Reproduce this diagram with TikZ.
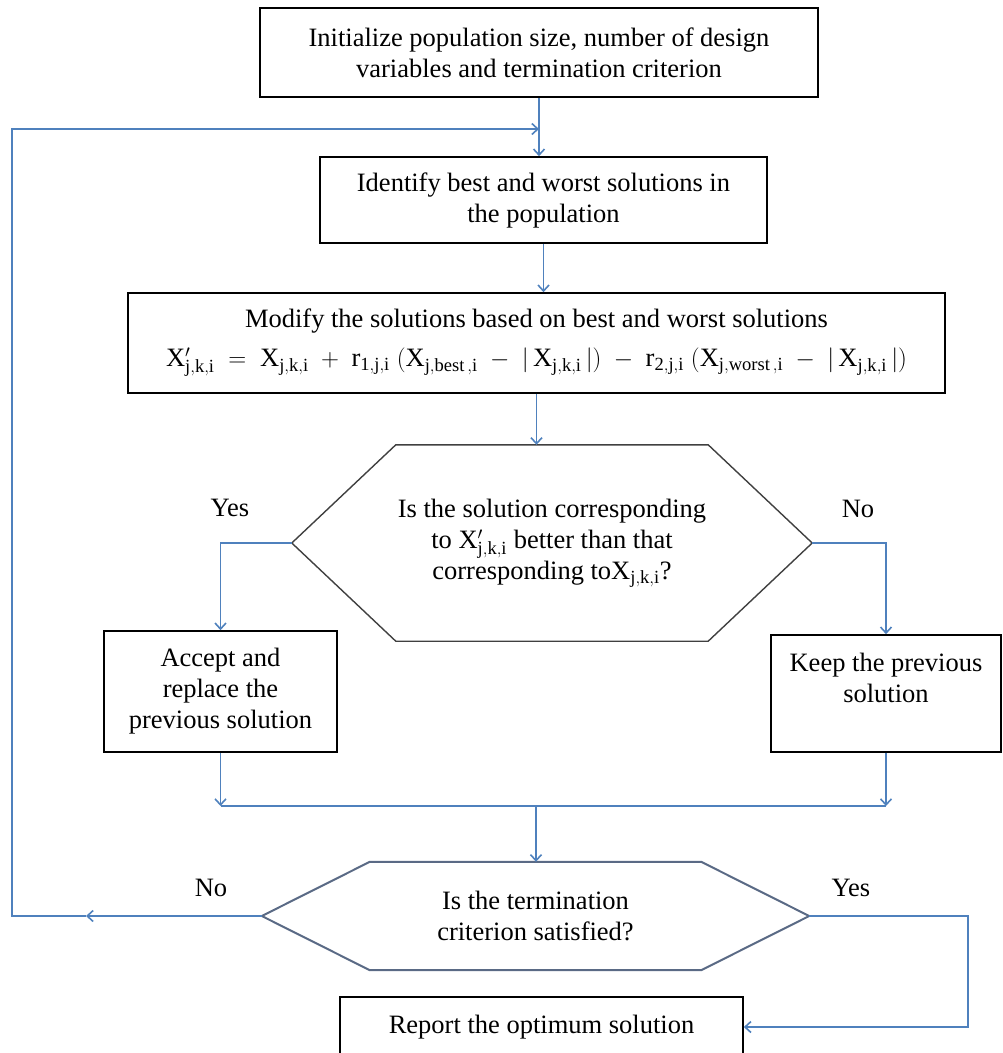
\documentclass[tikz,border=0pt]{standalone}
\usepackage{fontspec}
\setmainfont{Liberation Serif}
\usepackage{xcolor}
\usetikzlibrary{arrows.meta}
\definecolor{flowblue}{HTML}{4F81BD}
\definecolor{hexgray}{HTML}{404040}
\definecolor{hexslate}{HTML}{5A6A85}

\begin{document}
\begin{tikzpicture}[x=1pt, y=-1pt,
    every node/.style={font=\fontsize{26.5}{31}\selectfont, align=center},
    stepbox/.style={draw=black, line width=1.6pt, inner sep=0pt},
    decide/.style={inner sep=0pt},
    flow/.style={flowblue, line width=1.6pt, -{Straight Barb[length=6pt, width=11pt]}},
    link/.style={flowblue, line width=1.6pt}]
  \clip (0,0) rectangle (1003,1053);

  % process boxes
  \node[stepbox, minimum width=558pt, minimum height=89pt] (init) at (539,52.5)
    {Initialize population size, number of design\\variables and termination criterion};
  \node[stepbox, minimum width=447pt, minimum height=86pt] (ident) at (543.5,200)
    {Identify best and worst solutions in\\the population};
  \node[stepbox, minimum width=817pt, minimum height=100pt] (modify) at (536.5,343)
    {Modify the solutions based on best and worst solutions\\[8pt]
     $\mathrm{X'_{j,k,i} \;=\; X_{j,k,i} \;+\; r_{1,j,i}\;(X_{j,best\,,i} \;-\; |\,X_{j,k,i}\,|) \;-\; r_{2,j,i}\;(X_{j,worst\,,i} \;-\; |\,X_{j,k,i}\,|)}$};
  \node[stepbox, minimum width=233pt, minimum height=121pt] (accept) at (220.5,691.5)
    {Accept and\\replace the\\previous solution};
  \node[stepbox, minimum width=230pt, minimum height=117pt] (keep) at (886,693.5)
    {Keep the previous\\solution\\\mbox{}};
  \node[stepbox, minimum width=403pt, minimum height=60pt] (report) at (541.5,1027)
    {Report the optimum solution};

  % decisions
  \node[decide, minimum width=520pt, minimum height=196pt] (q1) at (552,543)
    {Is the solution corresponding\\to $\mathrm{X'_{j,k,i}}$ better than that\\corresponding to$\mathrm{X_{j,k,i}}$?};
  \draw[hexgray, line width=1.4pt] (q1.west) -- ([xshift=104pt]q1.north west) -- ([xshift=-104pt]q1.north east)
    -- (q1.east) -- ([xshift=-104pt]q1.south east) -- ([xshift=104pt]q1.south west) -- cycle;
  \node[decide, minimum width=547pt, minimum height=108pt] (q2) at (535.5,916)
    {Is the termination\\criterion satisfied?};
  \draw[hexslate, line width=2pt] (q2.west) -- ([xshift=108pt]q2.north west) -- ([xshift=-108pt]q2.north east)
    -- (q2.east) -- ([xshift=-108pt]q2.south east) -- ([xshift=108pt]q2.south west) -- cycle;

  % branch labels
  \foreach \n/\x/\y/\txt in {yesA/230/508/Yes, noA/858/509/No, noB/211/888/No, yesB/851/888/Yes}
    \node (\n) at (\x,\y) {\txt};

  % connectors
  \coordinate (loopin) at (539,129);
  \coordinate (merge) at (536,806);
  \coordinate (notip) at (86,916);
  \coordinate (nobend) at (12,916);
  \coordinate (yesbend) at (968,916);
  \draw[flow] (init.south) -- (init.south |- ident.north);
  \draw[flow] (ident.south) -- (ident.south |- modify.north);
  \draw[flow] (modify.south) -- (modify.south |- q1.north);
  \draw[flow] (q1.west) -| (accept.north);
  \draw[flow] (q1.east) -| (keep.north);
  \foreach \b in {accept, keep}
    \draw[flow] (\b.south) -- (\b.south |- merge);
  \draw[link] (accept.south |- merge) -- (keep.south |- merge);
  \draw[flow] (merge) -- (merge |- q2.north);
  \draw[flow] (q2.west) -- (notip);
  \draw[flow] (notip) -- (nobend) |- (loopin);
  \draw[flow] (q2.east) -- (yesbend) |- (report.east);
\end{tikzpicture}
\end{document}
